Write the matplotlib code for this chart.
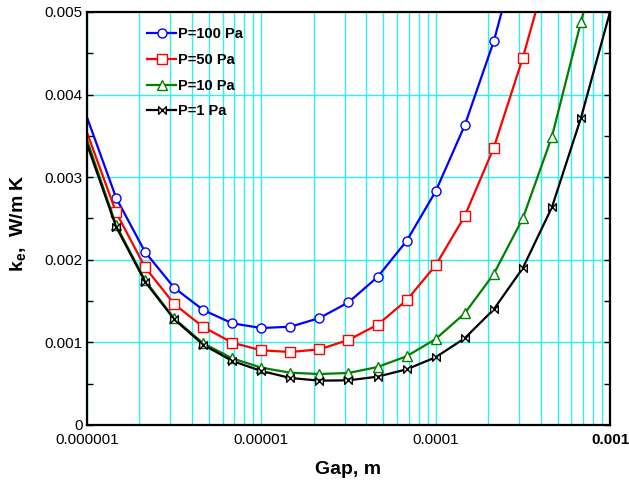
import numpy as np
import matplotlib
matplotlib.use("Agg")
import matplotlib.pyplot as plt
from matplotlib.path import Path
from matplotlib.ticker import FixedLocator, NullFormatter

plt.rcParams['font.family'] = ['Liberation Sans', 'DejaVu Sans']
plt.rcParams['mathtext.fontset'] = 'custom'
plt.rcParams['mathtext.rm'] = 'Liberation Sans'
plt.rcParams['mathtext.bf'] = 'Liberation Sans:bold'

# gap width, m (six points per decade)
gap = [1.0e-6, 1.468e-6, 2.154e-6, 3.162e-6, 4.642e-6, 6.813e-6,
       1.0e-5, 1.468e-5, 2.154e-5, 3.162e-5, 4.642e-5, 6.813e-5,
       1.0e-4, 1.468e-4, 2.154e-4, 3.162e-4, 4.642e-4, 6.813e-4, 1.0e-3]

# effective conductivity, W/m K (x 1e-3)
ke_100 = [3.725, 2.752, 2.094, 1.662, 1.392, 1.231, 1.174, 1.190, 1.295,
          1.485, 1.792, 2.228, 2.829, 3.628, 4.645, 5.95]
ke_50 = [3.54, 2.575, 1.909, 1.465, 1.186, 0.997, 0.904, 0.884, 0.916,
         1.030, 1.214, 1.510, 1.933, 2.530, 3.357, 4.447, 5.70]
ke_10 = [3.45, 2.42, 1.75, 1.29, 0.989, 0.807, 0.694, 0.633, 0.617,
         0.630, 0.702, 0.832, 1.041, 1.352, 1.828, 2.502, 3.49, 4.879, 6.25]
ke_1 = [3.40, 2.40, 1.735, 1.280, 0.972, 0.775, 0.654, 0.569, 0.537,
        0.541, 0.585, 0.674, 0.820, 1.050, 1.400, 1.900, 2.635, 3.717, 5.0]

labels = ['P=100 Pa', 'P=50 Pa', 'P=10 Pa', 'P=1 Pa']
xtick_vals = [1e-6, 1e-5, 1e-4, 1e-3]
xtick_text = ['0.000001', '0.00001', '0.0001', '0.001']
ytick_vals = [0, 0.001, 0.002, 0.003, 0.004, 0.005]
ytick_text = ['0', '0.001', '0.002', '0.003', '0.004', '0.005']

bowtie = Path([(-1, -1), (1, 1), (1, -1), (-1, 1), (-1, -1)],
              [Path.MOVETO, Path.LINETO, Path.LINETO, Path.LINETO, Path.CLOSEPOLY])

series = [(ke_100, '#0000ff', 'o', 6.5),
          (ke_50, '#ff0000', 's', 6.5),
          (ke_10, '#008000', '^', 6.5),
          (ke_1, '#000000', bowtie, 5.5)]

fig = plt.figure(figsize=(6.29, 4.80), dpi=100)
ax = fig.add_axes([87 / 629, 55 / 480, 523 / 629, 413 / 480])

for (vals, col, mk, ms), lab in zip(series, labels):
    y = np.array(vals) * 1e-3
    ax.plot(gap[:len(y)], y, color=col, lw=1.6, marker=mk, ms=ms,
            mfc='white', mec=col, mew=1.0, markevery=slice(1, -1),
            label=lab, zorder=3)

ax.set_xscale('log')
ax.set_xlim(1e-6, 1e-3)
ax.set_ylim(0, 0.005)

# grid: every log decade step in x, every 0.001 in y
minor_x = [m * 10.0 ** e for e in (-6, -5, -4) for m in range(2, 10)]
for xv in minor_x + xtick_vals:
    ax.axvline(xv, color='#2ef2f2', lw=1.0, zorder=1)
for yv in ytick_vals[1:-1]:
    ax.axhline(yv, color='#2ef2f2', lw=1.0, zorder=1)

ax.xaxis.set_major_locator(FixedLocator(xtick_vals))
ax.xaxis.set_minor_locator(FixedLocator(minor_x))
ax.xaxis.set_minor_formatter(NullFormatter())
ax.set_xticklabels(xtick_text)
ax.set_yticks(ytick_vals)
ax.set_yticklabels(ytick_text)
ax.yaxis.set_minor_locator(FixedLocator(np.arange(0.0005, 0.005, 0.001)))

ax.tick_params(axis='x', which='both', length=0, labelsize=11, pad=6)
ax.tick_params(axis='y', which='both', direction='in', left=True, right=True,
               labelsize=11, pad=3)
ax.tick_params(axis='y', which='major', length=4, width=1)
ax.tick_params(axis='y', which='minor', length=4, width=1)
ax.get_xticklabels()[-1].set_fontweight('bold')

for sp in ax.spines.values():
    sp.set_linewidth(1.6)
    sp.set_zorder(4)

ax.set_xlabel('Gap, m', fontsize=14, fontweight='bold', labelpad=10)
ax.set_ylabel(r'$\mathbf{k_e}$,  W/m K', fontsize=14, fontweight='bold')
ax.yaxis.set_label_coords(-0.113, 0.488)

leg = ax.legend(loc='upper left', bbox_to_anchor=(0.115, 0.963), frameon=False,
                borderpad=0, borderaxespad=0, handlelength=2.0,
                handletextpad=0.15, labelspacing=0.8,
                prop={'size': 10.5, 'weight': 'bold'})

fig.savefig('out.png', dpi=100)
